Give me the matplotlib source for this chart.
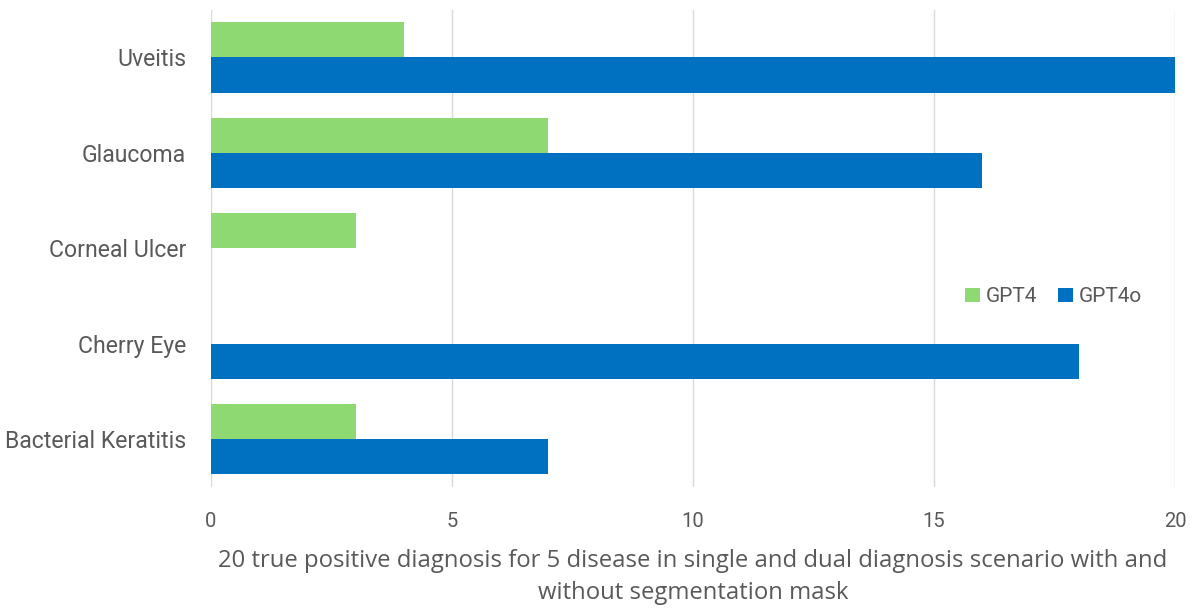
import numpy as np
import matplotlib
matplotlib.use('Agg')
import matplotlib.pyplot as plt

# data, bottom to top
diseases = ['Bacterial Keratitis', 'Cherry Eye', 'Corneal Ulcer', 'Glaucoma', 'Uveitis']
gpt4 = [3, 0, 3, 7, 4]
gpt4o = [7, 18, 0, 16, 20]
xticks = [0, 5, 10, 15, 20]
xlabel = '20 true positive diagnosis for 5 disease in single and dual diagnosis scenario with and\nwithout segmentation mask'

green = '#8FD973'
blue = '#0070C0'
grey = '#595959'

plt.rcParams['font.family'] = ['Roboto', 'DejaVu Sans']

fig = plt.figure(figsize=(11.99, 6.10), dpi=100)
ax = fig.add_axes([0.176, 0.202, 0.804, 0.782])

y = np.arange(len(diseases))
h = 0.37
ax.barh(y + h / 2, gpt4, height=h, color=green, label='GPT4', zorder=3)
ax.barh(y - h / 2, gpt4o, height=h, color=blue, label='GPT4o', zorder=3)

ax.set_xlim(0, 20)
ax.set_ylim(-0.5, 4.5)
ax.set_xticks(xticks)
ax.set_yticks(y)
ax.set_yticklabels(diseases)
ax.xaxis.grid(True, color='#D9D9D9', linewidth=1, zorder=0)
for s in ax.spines.values():
    s.set_visible(False)
ax.tick_params(axis='y', length=0, pad=18, labelsize=16.6, labelcolor=grey)
ax.tick_params(axis='x', length=0, pad=18, labelsize=14.5, labelcolor=grey)

ax.set_xlabel(xlabel, fontsize=17.2, color=grey, family=['Open Sans', 'DejaVu Sans'],
              labelpad=13, linespacing=1.45)

ax.legend(loc='center', bbox_to_anchor=(0.874, 0.398), ncol=2, frameon=False,
          fontsize=15, labelcolor=grey, handlelength=0.7, handleheight=0.7,
          handletextpad=0.3, columnspacing=1.0)

fig.savefig('out.png', dpi=100)
